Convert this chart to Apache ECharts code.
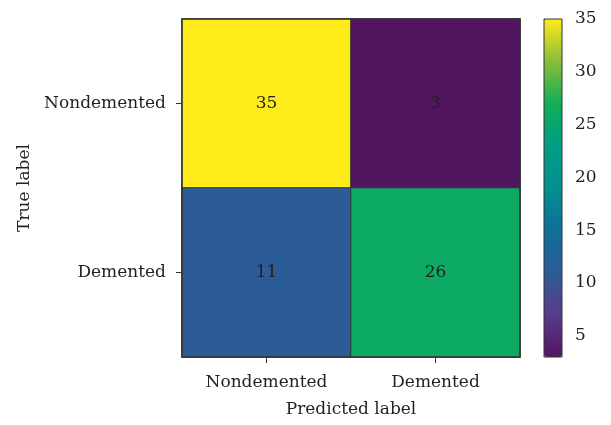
<!DOCTYPE html>
<html>
<head>
<meta charset="utf-8">
<script src="https://cdn.jsdelivr.net/npm/echarts@6/dist/echarts.min.js"></script>
<style>
  html, body { margin: 0; padding: 0; background: #fff; }
  #chart { width: 611px; height: 425px; }
</style>
</head>
<body>
<div id="chart"></div>
<script>
// Confusion matrix: rows are true labels, columns are predicted labels
const trueLabels = ['Nondemented', 'Demented'];
const predictedLabels = ['Nondemented', 'Demented'];
const counts = [
  [35, 3],
  [11, 26]
];
const colorbarTicks = [5, 10, 15, 20, 25, 30, 35];
const scaleMin = 3;
const scaleMax = 35;
// Evenly spaced colour stops at 3, 7, 11, ..., 35
const colorStops = ['#521660', '#5a3a8c', '#2c5c95', '#0f6f98', '#01908f', '#009c86', '#10ae56', '#8abd3a', '#ffea1a'];

const FONT = 'DejaVu Serif';
const TEXT = '#231f20';

const cells = [];
counts.forEach((row, r) => {
  row.forEach((v, c) => cells.push([c, r, v]));
});

const chart = echarts.init(document.getElementById('chart'), null, { renderer: 'canvas' });
chart.setOption({
  animation: false,
  backgroundColor: '#fff',
  textStyle: { fontFamily: FONT },
  grid: [
    { left: 182, top: 19, width: 338, height: 338, show: true, borderColor: '#333', borderWidth: 1.5, backgroundColor: 'transparent', z: 5 },
    { left: 544, top: 19, width: 18, height: 338, show: true, borderColor: '#333', borderWidth: 1, backgroundColor: 'transparent', z: 10 }
  ],
  xAxis: [
    {
      type: 'category', gridIndex: 0, data: predictedLabels, position: 'bottom',
      name: 'Predicted label', nameLocation: 'middle', nameGap: 44,
      nameTextStyle: { fontFamily: FONT, fontSize: 17, color: TEXT },
      axisLine: { show: false },
      axisTick: { show: true, alignWithLabel: true, length: 6, lineStyle: { color: '#333' } },
      axisLabel: { fontFamily: FONT, fontSize: 17, color: TEXT, margin: 17 },
      splitLine: { show: false }
    },
    {
      type: 'value', gridIndex: 1, min: 0, max: 1, show: false
    }
  ],
  yAxis: [
    {
      type: 'category', gridIndex: 0, data: trueLabels, inverse: true,
      name: 'True label', nameLocation: 'middle', nameGap: 143, nameRotate: 90,
      nameTextStyle: { fontFamily: FONT, fontSize: 17, color: TEXT },
      axisLine: { show: false },
      axisTick: { show: true, alignWithLabel: true, length: 6, lineStyle: { color: '#333' } },
      axisLabel: { fontFamily: FONT, fontSize: 17, color: TEXT, margin: 16 },
      splitLine: { show: false }
    },
    {
      type: 'value', gridIndex: 1, min: scaleMin, max: scaleMax, position: 'right',
      axisLine: { show: false },
      axisTick: { show: true, length: 6, customValues: colorbarTicks, lineStyle: { color: '#333' } },
      axisLabel: { fontFamily: FONT, fontSize: 17, color: TEXT, margin: 13, customValues: colorbarTicks },
      splitLine: { show: false }
    }
  ],
  visualMap: {
    type: 'continuous',
    min: scaleMin, max: scaleMax,
    calculable: false,
    realtime: false,
    seriesIndex: 0,
    orient: 'vertical',
    left: 544, top: 19,
    padding: 0,
    itemWidth: 18, itemHeight: 338,
    text: null,
    showLabel: false,
    z: 1,
    inRange: { color: colorStops }
  },
  series: [{
    type: 'heatmap',
    xAxisIndex: 0, yAxisIndex: 0,
    data: cells,
    itemStyle: { borderColor: '#333', borderWidth: 1 },
    label: { show: true, fontFamily: FONT, fontSize: 17, color: TEXT },
    emphasis: { disabled: true }
  }]
});
</script>
</body>
</html>
